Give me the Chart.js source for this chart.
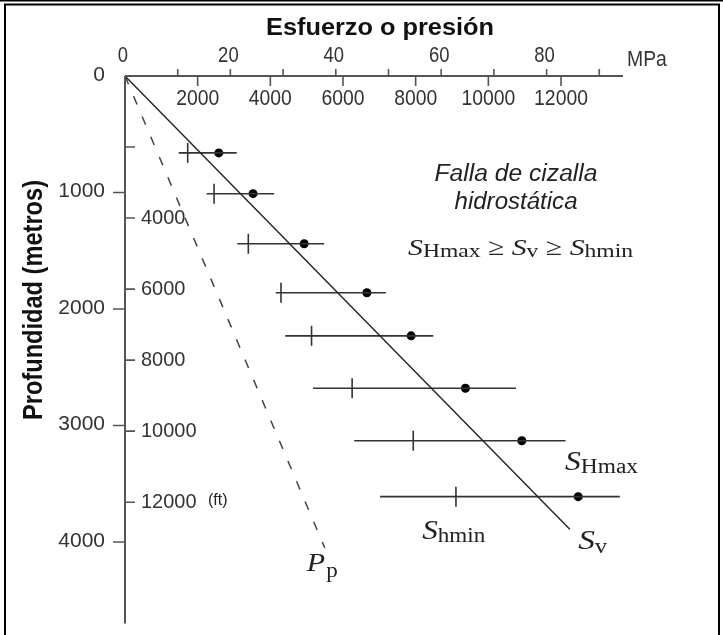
<!DOCTYPE html>
<html>
<head>
<meta charset="utf-8">
<script src="https://cdn.jsdelivr.net/npm/chart.js@4/dist/chart.umd.min.js"></script>
<style>
  html, body { margin: 0; padding: 0; background: #fff; }
  canvas { display: block; }
</style>
</head>
<body>
<canvas id="c" width="723" height="635"></canvas>
<script>
// Stress measurements per depth (MPa, metres)
const depths      = [660, 1010, 1440, 1860, 2230, 2680, 3130, 3610];
const shminValues = [11.9, 16.9, 23.4, 29.6, 35.4, 43.1, 54.7, 62.8];
const shmaxValues = [17.8, 24.3, 34.0, 45.9, 54.3, 64.6, 75.3, 86.0];
const rangeLow    = [10.2, 15.5, 21.3, 28.6, 30.4, 35.7, 43.5, 48.4];
const rangeHigh   = [21.2, 28.3, 37.8, 49.5, 58.5, 74.2, 83.6, 93.9];

// Gradient lines from surface: [stress MPa, depth m] at their lower ends
const svEnd = [84.4, 3890];
const ppEnd = [37.9, 4050];

// Axis ticks
const mpaTickValues   = [10, 20, 30, 40, 50, 60, 70, 80, 90];
const mpaLabelValues  = [0, 20, 40, 60, 80];
const psiTickValues   = [2000, 4000, 6000, 8000, 10000, 12000];
const meterTickValues = [1000, 2000, 3000, 4000];
const meterLabelValues= [0, 1000, 2000, 3000, 4000];
const feetTickValues  = [2000, 4000, 6000, 8000, 10000, 12000];
const feetLabelValues = [4000, 6000, 8000, 10000, 12000];

const PSI_PER_MPA = 145.038;
const M_PER_FT = 0.3048;

const INK = '#222';
const AXIS = '#555';
const SANS = '"Liberation Sans", Arial, sans-serif';
const SERIF = '"Liberation Serif", "Times New Roman", serif';

// Horizontal range bars, one dataset per depth
const rangeSets = depths.map((d, i) => ({
  data: [{x: rangeLow[i], y: d}, {x: rangeHigh[i], y: d}],
  showLine: true, borderColor: '#333', borderWidth: 1.6,
  pointRadius: 0, clip: false
}));

// text with horizontal squeeze / stretch
function txt(ctx, s, x, y, font, align, sx, color, base) {
  ctx.save();
  ctx.font = font;
  ctx.fillStyle = color || INK;
  ctx.textBaseline = base || 'alphabetic';
  ctx.textAlign = 'left';
  const w = ctx.measureText(s).width * sx;
  const left = align === 'center' ? x - w / 2 : align === 'right' ? x - w : x;
  ctx.translate(left, y);
  ctx.scale(sx, 1);
  ctx.fillText(s, 0, 0);
  ctx.restore();
}
function fitTxt(ctx, s, x, y, font, align, target, color) {
  ctx.save(); ctx.font = font;
  const sx = target / ctx.measureText(s).width;
  ctx.restore();
  txt(ctx, s, x, y, font, align, sx, color);
}
// symbol with subscripts: parts = [text, font, dy, gapAfter]
function rich(ctx, parts, x, y, target) {
  ctx.save();
  let total = 0;
  parts.forEach(p => { ctx.font = p[1]; total += ctx.measureText(p[0]).width + (p[3] || 0); });
  const sx = target ? target / total : 1;
  ctx.translate(x, y);
  ctx.scale(sx, 1);
  ctx.fillStyle = INK;
  ctx.textBaseline = 'alphabetic';
  let cx = 0;
  parts.forEach(p => {
    ctx.font = p[1];
    ctx.fillText(p[0], cx, p[2] || 0);
    cx += ctx.measureText(p[0]).width + (p[3] || 0);
  });
  ctx.restore();
}

const bgPlugin = {
  id: 'bg',
  beforeDraw(chart) {
    const c = chart.ctx;
    c.save(); c.fillStyle = '#fff'; c.fillRect(0, 0, chart.width, chart.height); c.restore();
  }
};

const axesPlugin = {
  id: 'stressAxes',
  afterDatasetsDraw(chart) {
    const ctx = chart.ctx;
    const xs = chart.scales.x, ys = chart.scales.y;
    const x0 = xs.getPixelForValue(0), y0 = ys.getPixelForValue(0);
    const xEnd = xs.right, yEnd = ys.bottom;

    ctx.save();
    ctx.strokeStyle = AXIS;
    ctx.lineWidth = 2;
    ctx.beginPath();
    ctx.moveTo(x0, y0); ctx.lineTo(xEnd, y0);
    ctx.moveTo(x0, y0); ctx.lineTo(x0, yEnd);
    ctx.stroke();

    ctx.lineWidth = 1.6;
    ctx.beginPath();
    // MPa ticks, upward
    mpaTickValues.forEach(v => { const px = xs.getPixelForValue(v); ctx.moveTo(px, y0); ctx.lineTo(px, y0 - 7); });
    // psi ticks, downward
    psiTickValues.forEach(v => { const px = xs.getPixelForValue(v / PSI_PER_MPA); ctx.moveTo(px, y0); ctx.lineTo(px, y0 + 10); });
    // metre ticks, to the left
    meterTickValues.forEach(v => { const py = ys.getPixelForValue(v); ctx.moveTo(x0, py); ctx.lineTo(x0 - 12, py); });
    // feet ticks, to the right
    feetTickValues.forEach(v => { const py = ys.getPixelForValue(v * M_PER_FT); ctx.moveTo(x0, py); ctx.lineTo(x0 + 10, py); });
    ctx.stroke();
    ctx.restore();

    const numFont = '22px ' + SANS;
    mpaLabelValues.forEach(v => txt(ctx, String(v), xs.getPixelForValue(v) - 2, y0 - 14, numFont, 'center', 0.84, '#333'));
    txt(ctx, 'MPa', xEnd + 4, y0 - 10, numFont, 'left', 0.88, '#333');
    psiTickValues.forEach(v => txt(ctx, String(v), xs.getPixelForValue(v / PSI_PER_MPA), y0 + 29, numFont, 'center', 0.88, '#333'));

    const mFont = '21px ' + SANS;
    meterLabelValues.forEach(v => txt(ctx, String(v), x0 - 20, ys.getPixelForValue(v) - 1, mFont, 'right', 1.0, '#333', 'middle'));
    feetLabelValues.forEach(v => txt(ctx, String(v), x0 + 16, ys.getPixelForValue(v * M_PER_FT), mFont, 'left', 0.95, '#333', 'middle'));
    const ftY = ys.getPixelForValue(feetLabelValues[feetLabelValues.length - 1] * M_PER_FT);
    txt(ctx, '(ft)', x0 + 83, ftY - 2, '16px ' + SANS, 'left', 1.0, '#222', 'middle');

    // titles
    fitTxt(ctx, 'Esfuerzo o presión', 380, 35, 'bold 23px ' + SANS, 'center', 228, '#111');
    ctx.save();
    ctx.translate(42, 300);
    ctx.rotate(-Math.PI / 2);
    fitTxt(ctx, 'Profundidad (metros)', 0, 0, 'bold 27px ' + SANS, 'center', 240, '#111');
    ctx.restore();

    // annotation text, anchored in data units
    const P = (mpa, m) => [xs.getPixelForValue(mpa), ys.getPixelForValue(m)];
    let p = P(74.2, 900);
    fitTxt(ctx, 'Falla de cizalla', p[0], p[1], 'italic 23px ' + SANS, 'center', 163);
    p = P(74.2, 1140);
    fitTxt(ctx, 'hidrostática', p[0], p[1], 'italic 23px ' + SANS, 'center', 123);

    const Si = 'italic 24px ' + SERIF, sub = '19px ' + SERIF, rel = '24px ' + SERIF;
    p = P(53.7, 1540);
    rich(ctx, [['S', Si, 0, 0], ['Hmax', sub, 2, 6], ['≥', rel, 0, 6], ['S', Si, 0, 0], ['v', sub, 2, 6],
               ['≥', rel, 0, 6], ['S', Si, 0, 0], ['hmin', sub, 2, 0]], p[0], p[1], 225);

    const Sb = 'italic 27px ' + SERIF, subb = '20px ' + SERIF;
    p = P(83.5, 3380);
    rich(ctx, [['S', Sb, 0, 0], ['Hmax', subb, 3, 0]], p[0], p[1], 73);
    p = P(56.4, 3975);
    rich(ctx, [['S', Sb, 0, 0], ['hmin', subb, 3, 0]], p[0], p[1], 63);
    p = P(86.0, 4060);
    rich(ctx, [['S', Sb, 0, 0], ['v', subb, 4, 0]], p[0], p[1], 29);
    p = P(34.5, 4250);
    rich(ctx, [['P', 'italic 26px ' + SERIF, 0, 1], ['p', subb, 6, 0]], p[0], p[1], 31);
  },
  afterDraw(chart) {
    // figure frame
    const ctx = chart.ctx;
    ctx.save();
    ctx.strokeStyle = '#000';
    ctx.lineWidth = 2;
    ctx.beginPath();
    ctx.moveTo(5, 640); ctx.lineTo(5, 4.5); ctx.lineTo(719, 4.5); ctx.lineTo(719, 640);
    ctx.stroke();
    ctx.beginPath();
    ctx.moveTo(0, 0.5); ctx.lineTo(723, 0.5);
    ctx.stroke();
    ctx.restore();
  }
};

new Chart(document.getElementById('c'), {
  type: 'scatter',
  data: {
    datasets: [
      { // vertical stress
        data: [{x: 0, y: 0}, {x: svEnd[0], y: svEnd[1]}],
        showLine: true, borderColor: '#222', borderWidth: 1.4, pointRadius: 0, clip: false
      },
      { // pore pressure
        data: [{x: 0, y: 0}, {x: ppEnd[0], y: ppEnd[1]}],
        showLine: true, borderColor: '#444', borderWidth: 1.5, borderDash: [9, 13], pointRadius: 0, clip: false
      },
      ...rangeSets,
      { // minimum horizontal stress
        data: depths.map((d, i) => ({x: shminValues[i], y: d})),
        pointStyle: 'line', rotation: 90, pointRadius: 10,
        borderColor: '#333', borderWidth: 1.6, backgroundColor: '#333', clip: false
      },
      { // maximum horizontal stress
        data: depths.map((d, i) => ({x: shmaxValues[i], y: d})),
        pointStyle: 'circle', pointRadius: 4.5,
        borderColor: '#000', borderWidth: 0, backgroundColor: '#000', clip: false
      }
    ]
  },
  options: {
    responsive: false,
    animation: false,
    layout: { padding: { left: 125, right: 100, top: 76, bottom: 7 } },
    scales: {
      x: { type: 'linear', display: false, min: 0, max: 94.5 },
      y: { type: 'linear', display: false, reverse: true, min: 0, max: 4698 }
    },
    plugins: { legend: { display: false }, tooltip: { enabled: false } },
    events: []
  },
  plugins: [bgPlugin, axesPlugin]
});
</script>
</body>
</html>
